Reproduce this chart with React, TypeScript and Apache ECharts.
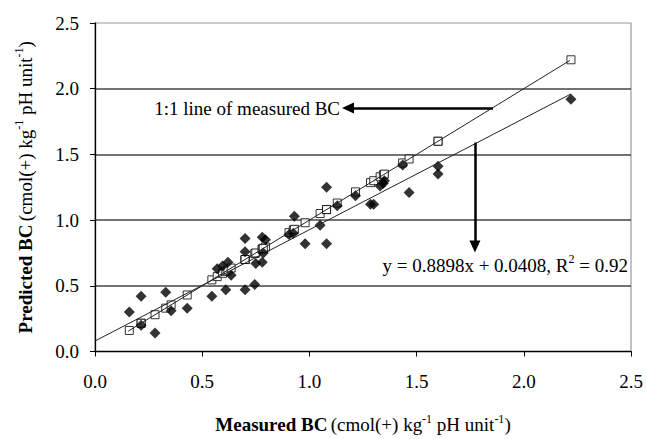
import React, { useEffect, useRef } from "react";
import * as echarts from "echarts";

// Measured BC (x) and predicted BC (y) for each sample
const measured = [
  0.16, 0.215, 0.215, 0.28, 0.33, 0.355, 0.43, 0.545, 0.57, 0.595, 0.61, 0.62, 0.635,
  0.7, 0.7, 0.7, 0.745, 0.75, 0.78, 0.78, 0.795, 0.785, 0.905, 0.925, 0.93, 0.98,
  1.05, 1.08, 1.08, 1.13, 1.215, 1.285, 1.3, 1.33, 1.345, 1.35, 1.435, 1.465, 1.6, 1.6, 2.22,
];
const predicted = [
  0.3, 0.42, 0.2, 0.14, 0.45, 0.31, 0.33, 0.42, 0.63, 0.65, 0.47, 0.68, 0.58,
  0.86, 0.76, 0.47, 0.51, 0.67, 0.68, 0.87, 0.85, 0.75, 0.89, 0.9, 1.03, 0.82,
  0.96, 1.25, 0.82, 1.11, 1.185, 1.12, 1.12, 1.26, 1.28, 1.3, 1.42, 1.21, 1.41, 1.35, 1.92,
];
// 1:1 line end points and drawn regression line end points
const oneToOneX = [0.155, 2.215];
const trendX = [0, 2.22];
const trendY = [0.08, 1.96];
// annotation arrows [x1, y1, x2, y2]
const arrowOneToOne = [1.856, 1.853, 1.18, 1.853];
const arrowTrend = [1.772, 1.59, 1.772, 0.8];
const axisTicks = [0, 0.5, 1.0, 1.5, 2.0, 2.5];

const FONT = "'Liberation Serif', 'Times New Roman', serif";

export default function App() {
  const ref = useRef<HTMLDivElement>(null);
  useEffect(() => {
    if (!ref.current) return;
    const chart = echarts.init(ref.current, undefined, { renderer: "svg" });
    const sup = { fontSize: 12, lineHeight: 12, verticalAlign: "top", fontFamily: FONT, color: "#000" };
    const nrm = { fontSize: 19, lineHeight: 24, fontFamily: FONT, color: "#000" };
    const bld = { fontSize: 19, lineHeight: 24, fontFamily: FONT, color: "#000", fontWeight: "bold" };
    const arrowLine = (a: number[]) => [
      { coord: [a[0], a[1]] },
      { coord: [a[2], a[3]] },
    ];
    chart.setOption({
      animation: false,
      backgroundColor: "#fff",
      grid: {
        left: 95, right: 15, top: 23, bottom: 87,
        show: true, borderColor: "#999", borderWidth: 1.2,
      },
      xAxis: {
        type: "value",
        min: axisTicks[0],
        max: axisTicks[axisTicks.length - 1],
        interval: 0.5,
        axisLine: { lineStyle: { color: "#000", width: 1.3 } },
        axisTick: { show: true, length: 5, lineStyle: { color: "#000" } },
        splitLine: { show: false },
        axisLabel: {
          formatter: (v: number) => v.toFixed(1),
          fontFamily: FONT, fontSize: 19, color: "#000", margin: 20,
        },
        name: "{b|Measured BC} {n|(cmol(+) kg}{s|-1}{n| pH unit}{s|-1}{n|)}",
        nameLocation: "middle",
        nameGap: 61,
        nameTextStyle: { rich: { b: bld, n: nrm, s: sup } },
      },
      yAxis: {
        type: "value",
        min: axisTicks[0],
        max: axisTicks[axisTicks.length - 1],
        interval: 0.5,
        axisLine: { show: true, lineStyle: { color: "#000", width: 1.3 } },
        axisTick: { show: true, length: 5, lineStyle: { color: "#000" } },
        splitLine: {
          show: true, showMinLine: false, showMaxLine: false,
          lineStyle: { color: "#444", width: 1.5 },
        },
        axisLabel: {
          formatter: (v: number) => v.toFixed(1),
          fontFamily: FONT, fontSize: 19, color: "#000", margin: 16,
        },
        name: "{b|Predicted BC} {n|(cmol(+) kg}{s|-1}{n| pH unit}{s|-1}{n|)}",
        nameLocation: "middle",
        nameRotate: 90,
        nameGap: 58,
        nameTextStyle: { rich: { b: bld, n: nrm, s: sup } },
      },
      series: [
        {
          type: "scatter",
          symbol: "rect",
          symbolSize: 8,
          itemStyle: { color: "#fff", borderColor: "#000", borderWidth: 1 },
          data: measured.map((m) => [m, m]),
          z: 2,
        },
        {
          type: "scatter",
          symbol: "diamond",
          symbolSize: 11,
          itemStyle: { color: "#000" },
          data: measured.map((m, i) => [m, predicted[i]]),
          z: 3,
        },
        {
          type: "line",
          showSymbol: false,
          symbol: "none",
          lineStyle: { color: "#222", width: 1 },
          data: oneToOneX.map((x) => [x, x]),
          z: 4,
        },
        {
          type: "line",
          showSymbol: false,
          symbol: "none",
          lineStyle: { color: "#222", width: 1 },
          data: trendX.map((x, i) => [x, trendY[i]]),
          z: 4,
          markLine: {
            silent: true,
            symbol: ["none", "triangle"],
            symbolSize: [11, 12],
            label: { show: false },
            lineStyle: { type: "solid", color: "#000", width: 2.5 },
            data: [arrowLine(arrowOneToOne), arrowLine(arrowTrend)],
          },
        },
      ],
      graphic: [
        {
          type: "text",
          x: 340,
          y: 108,
          style: {
            text: "1:1 line of measured BC",
            font: `19px ${FONT}`,
            fill: "#000",
            align: "right",
            verticalAlign: "middle",
          },
        },
        {
          type: "text",
          x: 628,
          y: 265,
          style: {
            text: "{n|y = 0.8898x + 0.0408, R}{s|2}{n| = 0.92}",
            align: "right",
            verticalAlign: "middle",
            rich: { n: nrm, s: sup },
          },
        },
      ],
    });
    return () => chart.dispose();
  }, []);
  return (
    <div
      ref={ref}
      style={{ position: "absolute", left: 0, top: 0, width: 646, height: 439 }}
    />
  );
}
